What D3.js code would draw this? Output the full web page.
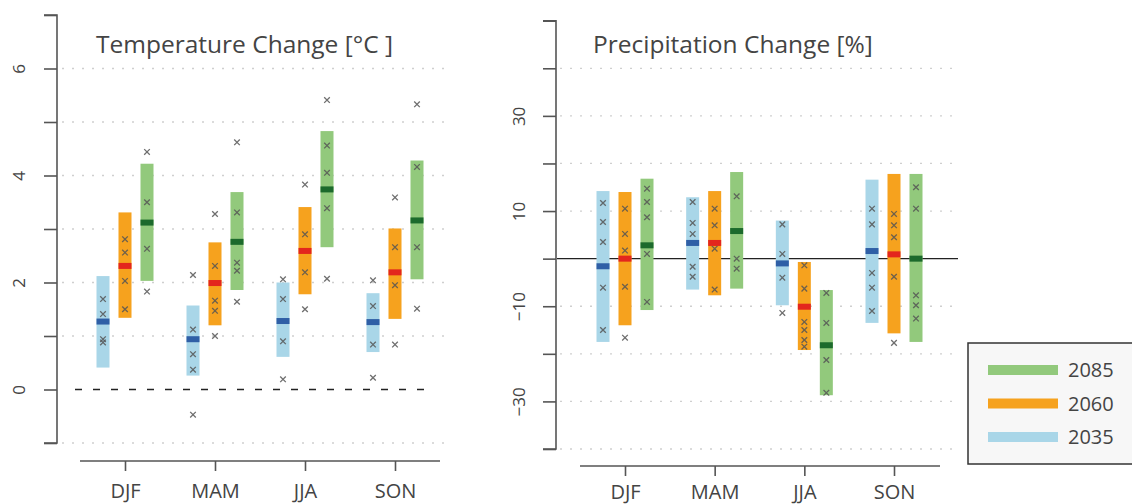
<!DOCTYPE html>
<html><head><meta charset="utf-8">
<script src="https://cdn.jsdelivr.net/npm/d3@7"></script>
<style>body{margin:0;background:#fff}svg{display:block}text{font-family:"Open Sans",Lato,sans-serif;fill:#444}</style>
</head><body><svg id="c" width="1132" height="504"></svg>
<script>
const seasons = ["DJF","MAM","JJA","SON"];
const scenarios = ["2035","2060","2085"];
const legendOrder = ["2085","2060","2035"];

// Temperature change [°C] per season
const t2035Lo = [0.41, 0.26, 0.61, 0.70];
const t2035Hi = [2.12, 1.57, 2.00, 1.80];
const t2035Med = [1.27, 0.94, 1.28, 1.26];
const t2035Pts = [[1.69,1.41,0.94,0.88],[2.14,1.12,0.66,0.37,-0.47],[2.06,1.69,0.90,0.19],[2.04,1.56,0.84,0.22]];
const t2060Lo = [1.34, 1.20, 1.78, 1.32];
const t2060Hi = [3.31, 2.75, 3.41, 3.01];
const t2060Med = [2.31, 1.99, 2.59, 2.19];
const t2060Pts = [[2.81,2.56,2.03,1.50],[3.28,2.31,1.66,1.47,1.00],[3.83,2.90,2.19,1.50],[3.59,2.66,1.95,0.84]];
const t2085Lo = [2.03, 1.86, 2.66, 2.06];
const t2085Hi = [4.22, 3.69, 4.83, 4.28];
const t2085Med = [3.12, 2.76, 3.74, 3.16];
const t2085Pts = [[4.44,3.50,2.63,1.83],[4.62,3.31,2.37,2.22,1.64],[5.41,4.56,4.05,3.39,2.07],[5.33,4.16,2.66,1.51]];

// Precipitation change [%] per season
const p2035Lo = [-17.5, -6.5, -9.8, -13.5];
const p2035Hi = [14.2, 12.9, 8.0, 16.6];
const p2035Med = [-1.6, 3.3, -1.0, 1.6];
const p2035Pts = [[11.7,7.7,3.5,-6.1,-15.0],[11.9,7.5,5.2,-1.7,-3.8],[7.2,1.0,-4.0,-11.4],[10.5,7.2,-3.0,-6.1,-11.0]];
const p2060Lo = [-14.0, -7.7, -19.2, -15.7];
const p2060Hi = [14.0, 14.2, -0.7, 17.8];
const p2060Med = [0.0, 3.3, -10.1, 0.9];
const p2060Pts = [[10.5,5.2,1.7,-5.9,-16.6],[10.5,7.0,2.1,-6.5],[-1.4,-6.3,-13.3,-15.0,-17.1,-18.5],[9.4,7.0,4.5,-3.8,-17.7]];
const p2085Lo = [-10.8, -6.3, -28.7, -17.5];
const p2085Hi = [16.8, 18.2, -6.6, 17.8];
const p2085Med = [2.8, 5.8, -18.2, 0.0];
const p2085Pts = [[14.7,11.9,8.7,1.0,-9.1],[13.1,0.0,-2.1],[-7.2,-13.5,-21.3,-28.2],[15.0,10.5,-7.7,-9.8,-12.6]];

const tempTicks = [-1,0,1,2,3,4,5,6,7];
const tempLabels = [0,2,4,6];
const tempGrid = [-1,1,2,3,4,5,6];
const precTicks = [-40,-30,-20,-10,0,10,20,30,40,50];
const precLabels = [-30,-10,10,30];
const precGrid = [-40,-30,-20,-10,10,20,30,40];

const barColor = {"2035":"#a9d6e8","2060":"#f6a21e","2085":"#92c97c"};
const medColor = {"2035":"#2f5fa6","2060":"#e3261d","2085":"#1c6a2c"};

const svg = d3.select("#c");

function panel(cfg){
  const g = svg.append("g");
  const y = d3.scaleLinear().domain(cfg.domain).range(cfg.yRange);
  const x = d3.scalePoint().domain(seasons).range(cfg.xRange);
  const off = d3.scalePoint().domain(scenarios).range([-22,22]);

  // grid
  g.selectAll(".grid").data(cfg.grid).enter().append("line")
    .attr("x1",cfg.gridX[0]).attr("x2",cfg.gridX[1])
    .attr("y1",d=>y(d)).attr("y2",d=>y(d))
    .attr("stroke","#cfcfcf").attr("stroke-width",1.3).attr("stroke-dasharray","2,8");
  // zero line
  g.append("line").attr("x1",cfg.zeroX[0]).attr("x2",cfg.zeroX[1])
    .attr("y1",y(0)).attr("y2",y(0))
    .attr("stroke","#222").attr("stroke-width",1.4)
    .attr("stroke-dasharray",cfg.zeroDash);

  // y axis
  const ya = d3.axisLeft(y).tickValues(cfg.ticks).tickSize(13)
    .tickFormat(d=>cfg.labels.includes(d)? d3.format("")(d).replace("-","\u2212") : "");
  const yg = g.append("g").attr("transform",`translate(${cfg.axisX},0)`).call(ya);
  yg.select(".domain").attr("d",`M-13,${y(cfg.domain[1])}H0V${y(cfg.domain[0])}H-13`).attr("stroke","#555").attr("stroke-width",1.6);
  yg.selectAll(".tick line").attr("stroke","#555").attr("stroke-width",1.6);
  yg.selectAll(".tick text").style("font-size","17px").style("fill","#444")
    .attr("transform",`translate(${cfg.labelDx},0) rotate(-90)`)
    .attr("x",0).attr("dy","0.35em").attr("text-anchor","middle");

  // x axis
  const xa = d3.axisBottom(x).tickSize(10);
  const xg = g.append("g").attr("transform",`translate(0,${cfg.axisY})`).call(xa);
  xg.select(".domain").attr("d",`M${cfg.xAxisExt[0]},0H${cfg.xAxisExt[1]}`).attr("stroke","#555").attr("stroke-width",1.6);
  xg.selectAll(".tick line").attr("stroke","#555").attr("stroke-width",1.6);
  xg.selectAll(".tick text").style("font-size","20px").style("fill","#444")
    .attr("y",cfg.xLabelBase-cfg.axisY).attr("dy",0);

  // bars
  const series = cfg.series;
  const bw = 13;
  scenarios.forEach((sc,k)=>{
    const s = series[k];
    seasons.forEach((se,i)=>{
      const cx = x(se)+off(sc);
      g.append("rect").attr("x",cx-bw/2).attr("width",bw)
        .attr("y",y(s.hi[i])).attr("height",y(s.lo[i])-y(s.hi[i]))
        .attr("fill",barColor[sc]);
      s.pts[i].forEach(v=>{
        const py=y(v), r=2.8;
        g.append("path").attr("d",`M${cx-r},${py-r}L${cx+r},${py+r}M${cx-r},${py+r}L${cx+r},${py-r}`)
          .attr("stroke","#555").attr("stroke-width",1.3).attr("fill","none").attr("opacity",0.85);
      });
      g.append("rect").attr("x",cx-bw/2).attr("width",bw)
        .attr("y",y(s.med[i])-3).attr("height",6).attr("fill",medColor[sc]);
    });
  });

  g.append("text").attr("x",cfg.titleX).attr("y",cfg.titleY).style("font-size","24.5px")
    .style("fill","#444").text(cfg.title);
}

panel({
  domain:[-1,7], yRange:[443,15], xRange:[125,395], axisX:57, axisY:461,
  xAxisExt:[80,440], gridX:[62,445], zeroX:[75,432], zeroDash:"7,11", labelDx:-38,
  ticks:tempTicks, labels:tempLabels, grid:tempGrid, xLabelBase:498,
  title:"Temperature Change [°C ]", titleX:96, titleY:53,
  series:[
    {lo:t2035Lo,hi:t2035Hi,med:t2035Med,pts:t2035Pts},
    {lo:t2060Lo,hi:t2060Hi,med:t2060Med,pts:t2060Pts},
    {lo:t2085Lo,hi:t2085Hi,med:t2085Med,pts:t2085Pts}]
});
panel({
  domain:[-40,50], yRange:[449,20.7], xRange:[625,894], axisX:556, axisY:466,
  xAxisExt:[580,940], gridX:[560,953], zeroX:[557,958], zeroDash:null, labelDx:-37,
  ticks:precTicks, labels:precLabels, grid:precGrid, xLabelBase:499,
  title:"Precipitation Change [%]", titleX:593, titleY:53,
  series:[
    {lo:p2035Lo,hi:p2035Hi,med:p2035Med,pts:p2035Pts},
    {lo:p2060Lo,hi:p2060Hi,med:p2060Med,pts:p2060Pts},
    {lo:p2085Lo,hi:p2085Hi,med:p2085Med,pts:p2085Pts}]
});

// legend
const lg = svg.append("g");
lg.append("rect").attr("x",968).attr("y",343).attr("width",170).attr("height",121)
  .attr("fill","#f7f7f7").attr("stroke","#333").attr("stroke-width",1.5);
const ly = d3.scalePoint().domain(legendOrder).range([370,437]);
legendOrder.forEach(sc=>{
  lg.append("line").attr("x1",988).attr("x2",1058).attr("y1",ly(sc)).attr("y2",ly(sc))
    .attr("stroke",barColor[sc]).attr("stroke-width",10);
  lg.append("text").attr("x",1068).attr("y",ly(sc)).attr("dy","0.36em").style("font-size","20px")
    .style("fill","#444").text(sc);
});
</script></body></html>
